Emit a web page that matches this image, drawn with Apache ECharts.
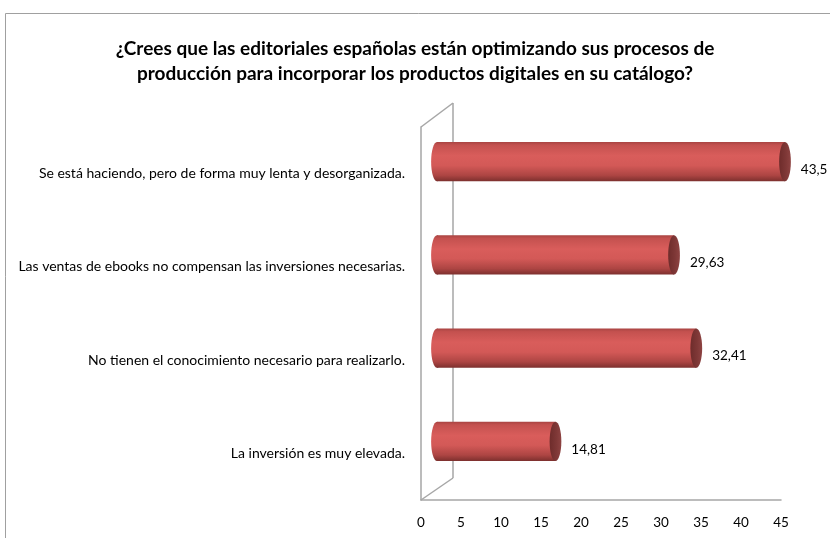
<!DOCTYPE html>
<html><head><meta charset="utf-8">
<script src="https://cdn.jsdelivr.net/npm/echarts@6/dist/echarts.min.js"></script>
<style>html,body{margin:0;padding:0;background:#fff}#c{width:830px;height:538px}</style>
</head><body><div id="c"></div>
<script>
const titleLines = [
  "¿Crees que las editoriales españolas están optimizando sus procesos de",
  "producción para incorporar los productos digitales en su catálogo?"
];
const categories = [
  "Se está haciendo, pero de forma muy lenta y desorganizada.",
  "Las ventas de ebooks no compensan las inversiones necesarias.",
  "No tienen el conocimiento necesario para realizarlo.",
  "La inversión es muy elevada."
];
const values = [43.5, 29.63, 32.41, 14.81];
const axisMin = 0, axisMax = 45, axisStep = 5;

const FONT = 'Lato';
const chart = echarts.init(document.getElementById('c'), null, {renderer:'canvas'});

// front plane & depth offsets (layout)
const front = {left:421, right:49, top:127, bottom:38};
const depthX = 32, depthY = 24;
const W = 830, H = 538;

function cylinder(params, api){
  const v = api.value(0), c = api.value(1);
  const p0 = api.coord([0, c]);
  const p1 = api.coord([v, c]);
  const band = api.size([0, 1])[1];
  const h = band * 0.42, ry = h/2, rx = ry * 0.3;
  const grad = {type:'linear', x:0, y:0, x2:0, y2:1, colorStops:[
    {offset:0, color:'#a94442'},
    {offset:0.08, color:'#c4514f'},
    {offset:0.35, color:'#d95d5b'},
    {offset:0.6, color:'#d35957'},
    {offset:0.85, color:'#ad4543'},
    {offset:1, color:'#7d302e'}
  ]};
  const capGrad = {type:'linear', x:0, y:0, x2:1, y2:0, colorStops:[
    {offset:0, color:'#6e2c2b'},
    {offset:0.6, color:'#7f3837'},
    {offset:1, color:'#8e4342'}
  ]};
  const label = String(v).replace('.', ',');
  return {type:'group', children:[
    {type:'ellipse', shape:{cx:p0[0], cy:p0[1], rx:rx, ry:ry}, style:{fill:grad}},
    {type:'rect', shape:{x:p0[0], y:p0[1]-ry, width:p1[0]-p0[0], height:h}, style:{fill:grad}},
    {type:'ellipse', shape:{cx:p1[0], cy:p1[1], rx:rx, ry:ry}, style:{fill:capGrad}},
    {type:'text', style:{text:label, x:p1[0]+rx+10, y:p1[1]+8, textVerticalAlign:'middle', fill:'#000', font:'13.5px '+FONT}}
  ]};
}

const wallColor = '#a6a6a6';
const fl = front.left, ft = front.top, fb = H - front.bottom;

chart.setOption({
  animation:false,
  backgroundColor:'#fff',
  title: titleLines.map((t, i) => ({text:t, left:'center', top:34 + i*25,
    textStyle:{fontFamily:FONT, fontWeight:'bold', fontSize:19, color:'#000'}})),
  grid:[
    {left:front.left, right:front.right, top:front.top, bottom:front.bottom},
    {left:front.left+depthX/2, right:front.right-depthX/2, top:front.top-depthY/2, bottom:front.bottom+depthY/2}
  ],
  xAxis:[
    {gridIndex:0, type:'value', min:axisMin, max:axisMax, interval:axisStep,
      axisLine:{show:true, lineStyle:{color:wallColor, width:1.5}}, axisTick:{show:false},
      splitLine:{show:false},
      axisLabel:{color:'#000', fontFamily:FONT, fontSize:13.5, margin:16}},
    {gridIndex:1, type:'value', min:axisMin, max:axisMax, interval:axisStep, show:false, splitLine:{show:false}}
  ],
  yAxis:[
    {gridIndex:0, type:'category', data:categories, inverse:true,
      axisLine:{show:true, lineStyle:{color:wallColor, width:1.5}}, axisTick:{show:false},
      axisLabel:{color:'#000', fontFamily:FONT, fontSize:14, margin:16, padding:[7,0,0,0]}},
    {gridIndex:1, type:'category', data:categories, inverse:true, show:false}
  ],
  graphic:[
    {type:'rect', shape:{x:5.5, y:13.5, width:900, height:600}, style:{fill:null, stroke:'#a0a0a0', lineWidth:1}, silent:true},
    {type:'line', shape:{x1:fl+depthX, y1:ft-depthY, x2:fl+depthX, y2:fb-depthY+2}, style:{stroke:wallColor, lineWidth:1.5}},
    {type:'line', shape:{x1:fl, y1:ft, x2:fl+depthX, y2:ft-depthY}, style:{stroke:wallColor, lineWidth:1.5}},
    {type:'line', shape:{x1:fl, y1:fb, x2:fl+depthX, y2:fb-depthY+2}, style:{stroke:wallColor, lineWidth:1.5}}
  ],
  series:[{
    type:'custom', xAxisIndex:1, yAxisIndex:1,
    data: values.map((v,i)=>[v,i]),
    encode:{x:0, y:1},
    renderItem: cylinder
  }]
});
</script></body></html>
